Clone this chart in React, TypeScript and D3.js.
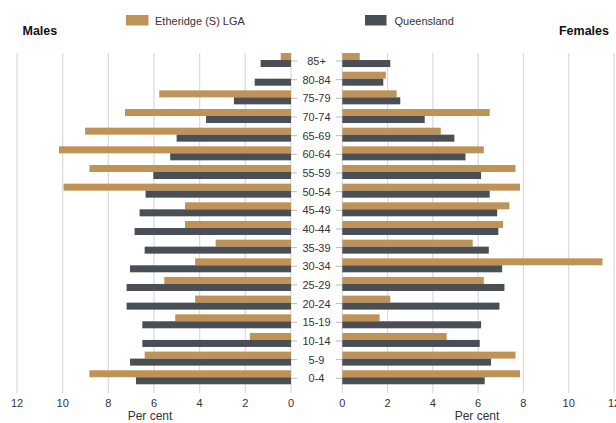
import React from "react";
import * as d3 from "d3";

const ageGroups = ["85+","80-84","75-79","70-74","65-69","60-64","55-59","50-54","45-49","40-44","35-39","30-34","25-29","20-24","15-19","10-14","5-9","0-4"];
const maleLGA = [0.45,0,5.77,7.27,9.02,10.16,8.83,9.96,4.64,4.64,3.30,4.20,5.55,4.20,5.07,1.80,6.41,8.83];
const maleQLD = [1.33,1.59,2.50,3.72,5.01,5.29,6.03,6.37,6.63,6.85,6.41,7.05,7.20,7.20,6.51,6.51,7.05,6.79];
const femaleLGA = [0.77,1.92,2.40,6.51,4.35,6.25,7.65,7.85,7.38,7.10,5.76,11.49,6.25,2.12,1.65,4.61,7.65,7.85];
const femaleQLD = [2.12,1.81,2.56,3.64,4.95,5.44,6.13,6.51,6.84,6.89,6.47,7.06,7.16,6.94,6.13,6.07,6.57,6.29];
const ticks = [0,2,4,6,8,10,12];
const seriesNames = ["Etheridge (S) LGA","Queensland"];

const TAN = "#BF9358";
const DARK = "#4A4E55";
const GRID = "#DADADA";
const FONT = "'Liberation Sans', Arial, sans-serif";

export default function App() {
  const W = 616, H = 423;
  const xL = d3.scaleLinear().domain([0, 12]).range([291, 17]);
  const xR = d3.scaleLinear().domain([0, 12]).range([342.3, 614]);
  const y = d3.scaleBand<string>().domain(ageGroups).range([50.7, 386.6]).padding(0);
  const barH = 7;
  const gridTop = 53, gridBot = 393;
  const c = (g: string) => (y(g) as number) + y.bandwidth() / 2;

  return (
    <svg width={W} height={H} style={{ position: "absolute", left: 0, top: 0, background: "#fff" }} fontFamily={FONT}>
      {ticks.map((t) => (
        <g key={"g" + t}>
          <line x1={xL(t)} x2={xL(t)} y1={gridTop} y2={gridBot} stroke={GRID} strokeWidth={1.2} />
          <line x1={xR(t)} x2={xR(t)} y1={gridTop} y2={gridBot} stroke={GRID} strokeWidth={1.2} />
        </g>
      ))}
      {ageGroups.map((g, i) => (
        <g key={g}>
          <rect x={xL(maleLGA[i])} y={c(g) - barH} width={xL(0) - xL(maleLGA[i])} height={barH} fill={TAN} />
          <rect x={xL(maleQLD[i])} y={c(g)} width={xL(0) - xL(maleQLD[i])} height={barH} fill={DARK} />
          <rect x={xR(0)} y={c(g) - barH} width={xR(femaleLGA[i]) - xR(0)} height={barH} fill={TAN} />
          <rect x={xR(0)} y={c(g)} width={xR(femaleQLD[i]) - xR(0)} height={barH} fill={DARK} />
          <line x1={291} x2={297} y1={c(g) + 1} y2={c(g) + 1} stroke="#BBB" strokeWidth={1} />
          <line x1={336} x2={342} y1={c(g) + 1} y2={c(g) + 1} stroke="#BBB" strokeWidth={1} />
          <text x={316.5} y={c(g) + 1} textAnchor="middle" dominantBaseline="central" fontSize={11} fill="#333">{g}</text>
        </g>
      ))}
      {ticks.map((t) => (
        <g key={"t" + t}>
          <text x={xL(t)} y={403} textAnchor="middle" dominantBaseline="central" fontSize={11} fill="#333">{t}</text>
          <text x={xR(t)} y={403} textAnchor="middle" dominantBaseline="central" fontSize={11} fill="#333">{t}</text>
        </g>
      ))}
      <text x={150} y={416} textAnchor="middle" dominantBaseline="central" fontSize={12} fill="#333">Per cent</text>
      <text x={477} y={416} textAnchor="middle" dominantBaseline="central" fontSize={12} fill="#333">Per cent</text>
      <text x={22.5} y={31} dominantBaseline="central" fontSize={12.5} fontWeight="bold" fill="#111">Males</text>
      <text x={609} y={31} textAnchor="end" dominantBaseline="central" fontSize={12.5} fontWeight="bold" fill="#111">Females</text>
      <rect x={126} y={15} width={22.5} height={10.5} fill={TAN} />
      <text x={155} y={20.5} dominantBaseline="central" fontSize={11} fill="#333">{seriesNames[0]}</text>
      <rect x={365} y={15} width={21.5} height={10.5} fill={DARK} />
      <text x={394.5} y={20.5} dominantBaseline="central" fontSize={11} fill="#333">{seriesNames[1]}</text>
    </svg>
  );
}
